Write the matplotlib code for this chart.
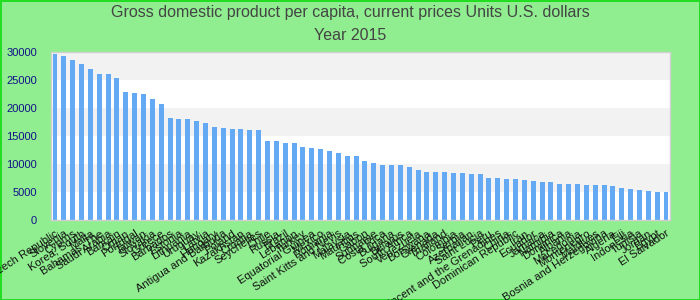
import matplotlib
matplotlib.use("Agg")
import matplotlib.pyplot as plt

# GDP per capita, current prices (U.S. dollars), year 2015
countries = [
    "Czech Republic", "Slovenia", "Cyprus", "Korea, South", "Malta",
    "Bahamas, The", "Saudi Arabia", "Bahrain", "Oman", "Portugal",
    "Taiwan", "Slovakia", "Greece", "Barbados", "Estonia",
    "Lithuania", "Uruguay", "Latvia", "Hungary", "Antigua and Barbuda",
    "Poland", "Kazakhstan", "Croatia", "Seychelles", "Chile",
    "Russia", "Brazil", "Lebanon", "Turkey", "Equatorial Guinea",
    "Mexico", "Romania", "Saint Kitts and Nevis", "Malaysia", "Mauritius",
    "Gabon", "Suriname", "Costa Rica", "Bulgaria", "Belarus",
    "South Africa", "Venezuela", "Botswana", "Grenada", "Thailand",
    "Colombia", "Serbia", "Azerbaijan", "Saint Lucia", "Peru",
    "Saint Vincent and the Grenadines", "China", "Dominican Republic", "Iran", "Ecuador",
    "Jamaica", "Namibia", "Dominica", "Albania", "Macedonia",
    "Montenegro", "Maldives", "Bosnia and Herzegovina", "Algeria", "Fiji",
    "Indonesia", "Tunisia", "Jordan", "Egypt", "El Salvador",
]
gdp = [
    29580, 29230, 28520, 27800, 26900,
    26000, 26000, 25300, 22800, 22630,
    22450, 21560, 20670, 18180, 18000,
    18000, 17640, 17290, 16570, 16400,
    16220, 16220, 16040, 16040, 14080,
    14080, 13720, 13720, 13010, 12830,
    12650, 12300, 11940, 11400, 11400,
    10510, 10160, 9800, 9800, 9800,
    9450, 8910, 8550, 8550, 8550,
    8380, 8380, 8200, 8200, 7480,
    7480, 7300, 7300, 7130, 6950,
    6770, 6770, 6420, 6420, 6420,
    6240, 6240, 6240, 6060, 5700,
    5520, 5350, 5170, 4990, 4990,
]
yticks = [0, 5000, 10000, 15000, 20000, 25000, 30000]

title = "Gross domestic product per capita, current prices Units U.S. dollars\nYear 2015"

plt.rcParams['font.family'] = ['Liberation Sans', 'DejaVu Sans']

fig = plt.figure(figsize=(7, 3), dpi=100)
fig.patch.set_facecolor('#90ee90')
fig.patch.set_edgecolor('#22dd22')
fig.patch.set_linewidth(2)

ax = fig.add_axes([51 / 700, 80 / 300, 619 / 700, 168 / 300])
ax.set_facecolor('white')

# alternating horizontal bands
for lo in yticks[1::2]:
    ax.axhspan(lo, lo + 5000, color='#f2f2f2', zorder=0, lw=0)

x = range(len(countries))
ax.bar(x, gdp, width=0.56, color='#63a9f3', zorder=2)

ax.set_xlim(-0.45, len(countries) - 0.55)
ax.set_ylim(0, 30000)
ax.set_yticks(yticks)
ax.set_yticklabels([str(v) for v in yticks], color='#111188', fontsize=8)
ax.set_xticks(list(x))
ax.set_xticklabels(countries, rotation=33, ha='right', rotation_mode='anchor',
                   fontsize=8, color='#111111')
ax.tick_params(axis='both', length=0)
ax.tick_params(axis='y', pad=10)
ax.tick_params(axis='x', pad=6)

for s in ax.spines.values():
    s.set_color('#d0d0d0')
    s.set_linewidth(1)

fig.text(0.5, 1 - 24 / 300, title, ha='center', va='center', fontsize=11.5,
         color='#444444', linespacing=1.6)

fig.savefig('out.png', dpi=100, facecolor=fig.get_facecolor(),
            edgecolor=fig.get_edgecolor())
